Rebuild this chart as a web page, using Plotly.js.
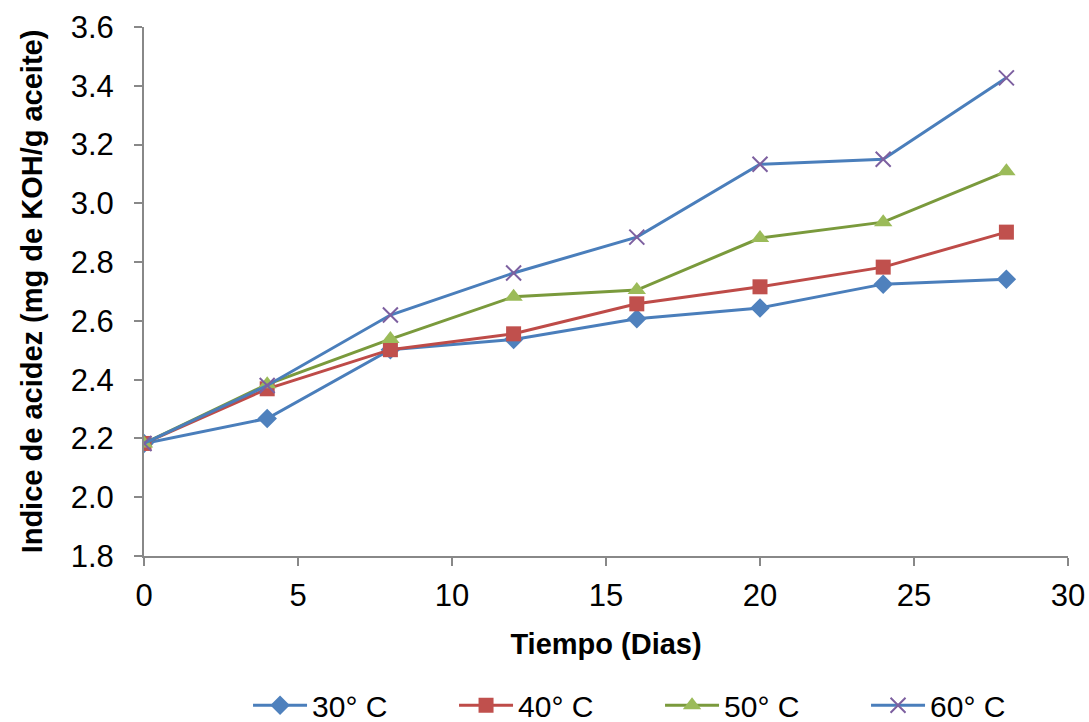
<!DOCTYPE html>
<html>
<head>
<meta charset="utf-8">
<script src="https://cdn.plot.ly/plotly-3.0.1.min.js"></script>
<style>html,body{margin:0;padding:0;background:#fff;}#chart{width:1089px;height:722px;}</style>
</head>
<body>
<div id="chart"></div>
<script>
const days = [0, 4, 8, 12, 16, 20, 24, 28];
const seriesNames = ["30° C", "40° C", "50° C", "60° C"];
const t30 = [2.183, 2.268, 2.502, 2.537, 2.607, 2.644, 2.725, 2.742];
const t40 = [2.183, 2.369, 2.502, 2.556, 2.658, 2.716, 2.783, 2.902];
const t50 = [2.183, 2.384, 2.538, 2.682, 2.705, 2.882, 2.936, 3.109];
const t60 = [2.183, 2.380, 2.620, 2.763, 2.885, 3.133, 3.150, 3.427];
const xTicks = [0, 5, 10, 15, 20, 25, 30];
const yTicks = [1.8, 2.0, 2.2, 2.4, 2.6, 2.8, 3.0, 3.2, 3.4, 3.6];

const styles = [
  {line: '#4A7EBB', marker: '#4F81BD', symbol: 'diamond', size: 15},
  {line: '#BE4B48', marker: '#C0504D', symbol: 'square', size: 15},
  {line: '#7A9A3C', marker: '#9BBB59', symbol: 'triangle-up', size: 16},
  {line: '#4A7EBB', marker: '#7D60A0', symbol: 'x-thin', size: 15}
];
const values = [t30, t40, t50, t60];

const traces = values.map((v, i) => {
  const s = styles[i];
  const m = {symbol: s.symbol, size: s.size, color: s.marker};
  if (s.symbol === 'x-thin') m.line = {color: s.marker, width: 2};
  else m.line = {color: s.marker, width: 0};
  return {
    x: days, y: v, name: seriesNames[i], type: 'scatter', mode: 'lines+markers',
    line: {color: s.line, width: 3}, marker: m
  };
});

const font = 'Liberation Sans, Arial, sans-serif';
const layout = {
  width: 1089, height: 722,
  margin: {l: 144, r: 21, t: 27, b: 166, autoexpand: false},
  paper_bgcolor: '#fff', plot_bgcolor: '#fff',
  font: {family: font, color: '#000'},
  showlegend: true,
  legend: {
    orientation: 'h', x: 0.1126, xanchor: 'left', y: -0.282, yanchor: 'middle',
    font: {family: font, size: 30, color: '#000'},
    entrywidth: 137, entrywidthmode: 'pixels', itemwidth: 54
  },
  xaxis: {
    range: [0, 30], tickvals: xTicks, ticktext: xTicks.map(String),
    showgrid: false, zeroline: false, showline: true, linecolor: '#888', linewidth: 2,
    ticks: 'outside', ticklen: 8, tickwidth: 2, tickcolor: '#888',
    tickfont: {family: font, size: 31, color: '#000'}, ticklabelstandoff: 3,
    title: {text: '<b>Tiempo (Dias)</b>', font: {family: font, size: 29, color: '#000'}, standoff: 21},
    automargin: false
  },
  yaxis: {
    range: [1.8, 3.6], tickvals: yTicks, ticktext: yTicks.map(v => v.toFixed(1)),
    showgrid: false, zeroline: false, showline: true, linecolor: '#888', linewidth: 2,
    ticks: 'outside', ticklen: 8, tickwidth: 2, tickcolor: '#888',
    tickfont: {family: font, size: 31, color: '#000'}, ticklabelstandoff: 14,
    title: {text: '<b>Indice de acidez (mg de KOH/g aceite)</b>', font: {family: font, size: 29, color: '#000'}, standoff: 20},
    automargin: false
  }
};

Plotly.newPlot('chart', traces, layout, {displayModeBar: false, staticPlot: true});
</script>
</body>
</html>
